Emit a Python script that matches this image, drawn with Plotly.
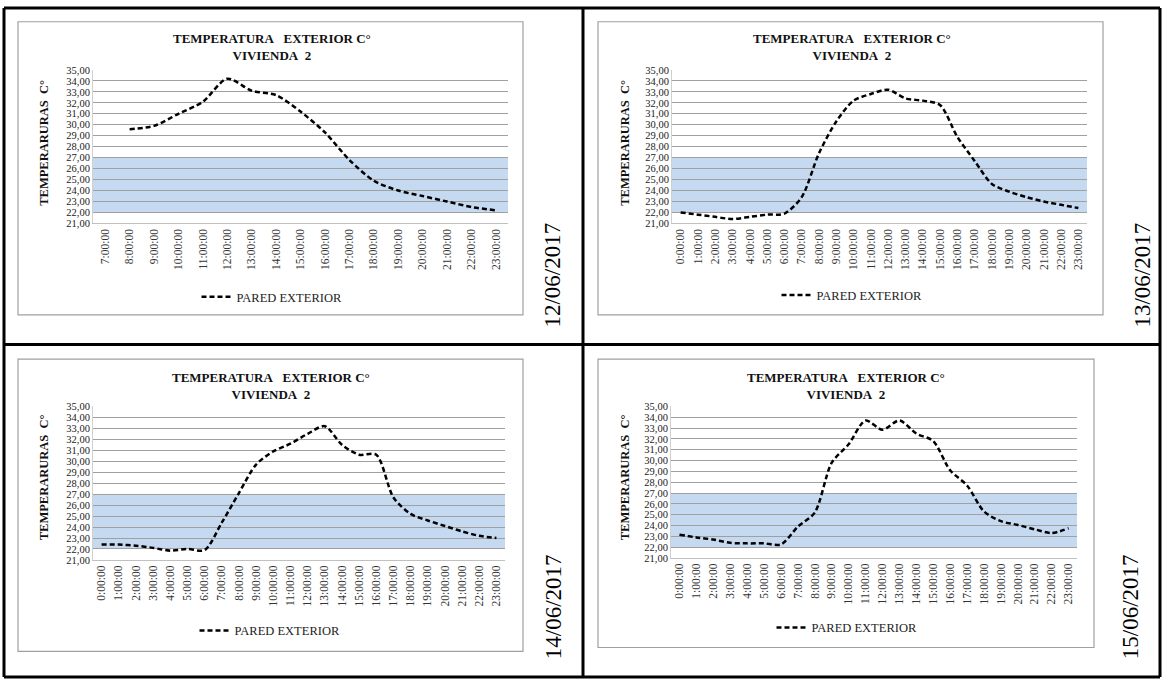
import plotly.graph_objects as go

W, H = 1162, 685

# ---------------- data ----------------
hours_p1 = ["7:00:00", "8:00:00", "9:00:00", "10:00:00", "11:00:00", "12:00:00", "13:00:00",
            "14:00:00", "15:00:00", "16:00:00", "17:00:00", "18:00:00", "19:00:00", "20:00:00",
            "21:00:00", "22:00:00", "23:00:00"]
hours_full = ["0:00:00", "1:00:00", "2:00:00", "3:00:00", "4:00:00", "5:00:00", "6:00:00",
              "7:00:00", "8:00:00", "9:00:00", "10:00:00", "11:00:00", "12:00:00", "13:00:00",
              "14:00:00", "15:00:00", "16:00:00", "17:00:00", "18:00:00", "19:00:00", "20:00:00",
              "21:00:00", "22:00:00", "23:00:00"]

temp_12_06 = [None, 29.6, 29.9, 31.0, 32.1, 34.2, 33.1, 32.7, 31.2, 29.3, 26.8, 24.9, 24.0,
              23.5, 23.0, 22.5, 22.2]
temp_13_06 = [22.0, 21.8, 21.6, 21.4, 21.6, 21.8, 21.9, 23.4, 27.4, 30.3, 32.2, 32.8, 33.2,
              32.4, 32.2, 31.8, 28.9, 26.7, 24.6, 23.9, 23.4, 23.0, 22.7, 22.4]
temp_14_06 = [22.4, 22.4, 22.3, 22.1, 21.85, 22.0, 21.9, 24.4, 27.1, 29.7, 30.9, 31.6, 32.5,
              33.2, 31.5, 30.6, 30.6, 26.7, 25.2, 24.6, 24.1, 23.6, 23.2, 23.0]
temp_15_06 = [23.15, 22.9, 22.7, 22.4, 22.35, 22.35, 22.25, 23.9, 25.2, 29.8, 31.5, 33.7, 32.85,
              33.7, 32.5, 31.8, 29.1, 27.7, 25.3, 24.4, 24.05, 23.65, 23.3, 23.75]

dates = ["12/06/2017", "13/06/2017", "14/06/2017", "15/06/2017"]
series_name = "PARED EXTERIOR"
chart_title = "<b>TEMPERATURA\u00a0\u00a0 EXTERIOR C°</b><br><b>VIVIENDA\u00a0 2</b>"
y_title = "<b>TEMPERARURAS\u00a0 C°</b>"
y_ticks = list(range(21, 36))
band_low, band_high = 22, 27

panels = [
    dict(x=hours_p1, y=temp_12_06, date=dates[0]),
    dict(x=hours_full, y=temp_13_06, date=dates[1]),
    dict(x=hours_full, y=temp_14_06, date=dates[2]),
    dict(x=hours_full, y=temp_15_06, date=dates[3]),
]

# ---------------- layout geometry (pixels) ----------------
geo = [
    dict(box=(18, 17, 523, 315), plot=(93, 66, 508, 222), title=(272, 43), ytitle=(44, 140),
         legend=(272, 297), date=(553, 275)),
    dict(box=(598, 17, 1103, 315), plot=(672, 66, 1087, 222), title=(852, 43), ytitle=(625, 140),
         legend=(852, 295), date=(1143, 275)),
    dict(box=(18, 360, 523, 657), plot=(93, 408, 505, 564), title=(271, 387), ytitle=(44, 480),
         legend=(270, 636), date=(553, 612)),
    dict(box=(598, 360, 1094, 653), plot=(671, 408, 1077, 562), title=(846, 387), ytitle=(625, 480),
         legend=(847, 633), date=(1130, 612)),
]


def px(x):
    return x / W


def py(y):
    return 1 - y / H


FONT = "Liberation Serif"
fig = go.Figure()
shapes = []
annotations = []
layout_extra = {}

for i, (p, g) in enumerate(zip(panels, geo)):
    n = i + 1
    xa = "xaxis" if n == 1 else f"xaxis{n}"
    ya = "yaxis" if n == 1 else f"yaxis{n}"
    xr = "x" if n == 1 else f"x{n}"
    yr = "y" if n == 1 else f"y{n}"
    leg = "legend" if n == 1 else f"legend{n}"

    fig.add_trace(go.Scatter(
        x=p["x"], y=p["y"], mode="lines", name=series_name,
        line=dict(color="black", width=2.5, dash="5px,3px", shape="spline", smoothing=0.8),
        connectgaps=False, xaxis=xr, yaxis=yr, legend=leg, showlegend=True,
        hoverinfo="skip",
    ))

    x0, y0, x1, y1 = g["plot"]
    layout_extra[xa] = dict(
        domain=[px(x0), px(x1)], anchor=yr, type="category",
        categoryorder="array", categoryarray=p["x"],
        range=[-0.5, len(p["x"]) - 0.5],
        tickangle=-90, tickfont=dict(family=FONT, size=11.5, color="#333"),
        showgrid=False, showline=True, linecolor="#C0C0C0", linewidth=1,
        ticks="", ticklen=0, zeroline=False, fixedrange=True,
    )
    layout_extra[ya] = dict(
        domain=[py(y1), py(y0)], anchor=xr, range=[21, 35],
        tickmode="array", tickvals=y_ticks, tickformat=".2f",
        tickfont=dict(family=FONT, size=10.5, color="#222"),
        showgrid=True, gridcolor="#A0A0A0", gridwidth=1.4,
        showline=True, linecolor="#D0D0D0", linewidth=1,
        ticks="", zeroline=False, fixedrange=True,
    )
    layout_extra[leg] = dict(
        x=px(g["legend"][0]), y=py(g["legend"][1]), xanchor="center", yanchor="middle",
        orientation="h", bgcolor="rgba(0,0,0,0)",
        font=dict(family=FONT, size=12.5, color="#222"),
    )

    # comfort band
    shapes.append(dict(type="rect", xref=f"{xr} domain", yref=yr, x0=0, x1=1,
                       y0=band_low, y1=band_high, fillcolor="#C5D9F1",
                       line=dict(width=0), layer="below"))
    # chart border
    bx0, by0, bx1, by1 = g["box"]
    shapes.append(dict(type="rect", xref="paper", yref="paper", x0=px(bx0), x1=px(bx1),
                       y0=py(by1), y1=py(by0), line=dict(color="#A0A0A0", width=1.2),
                       fillcolor="rgba(0,0,0,0)"))

    annotations.append(dict(text=chart_title, x=px(g["title"][0]), y=py(g["title"][1]),
                            xref="paper", yref="paper", showarrow=False, xanchor="center",
                            yanchor="middle", font=dict(family=FONT, size=13, color="#111")))
    annotations.append(dict(text=y_title, x=px(g["ytitle"][0]), y=py(g["ytitle"][1]),
                            xref="paper", yref="paper", showarrow=False, textangle=-90,
                            xanchor="center", yanchor="middle",
                            font=dict(family=FONT, size=12.5, color="#111")))
    annotations.append(dict(text=p["date"], x=px(g["date"][0]), y=py(g["date"][1]),
                            xref="paper", yref="paper", showarrow=False, textangle=-90,
                            xanchor="center", yanchor="middle",
                            font=dict(family=FONT, size=23, color="#000")))

# table borders
for (a, b, c, d) in [(4, 3, 1160, 3), (4, 683, 1160, 683), (4, 3, 4, 683), (1160, 3, 1160, 683),
                     (583, 3, 583, 683), (4, 345, 1160, 345)]:
    shapes.append(dict(type="line", xref="paper", yref="paper", x0=px(a), x1=px(c),
                       y0=py(b), y1=py(d), line=dict(color="black", width=3)))

fig.update_layout(
    width=W, height=H, margin=dict(l=0, r=0, t=0, b=0),
    paper_bgcolor="white", plot_bgcolor="white",
    separators=", ", showlegend=True,
    shapes=shapes, annotations=annotations,
    **layout_extra,
)

fig.write_html(
    "out.html",
    config={"displayModeBar": False},
    post_script="document.body.style.margin='0';document.body.style.overflow='hidden';",
)
